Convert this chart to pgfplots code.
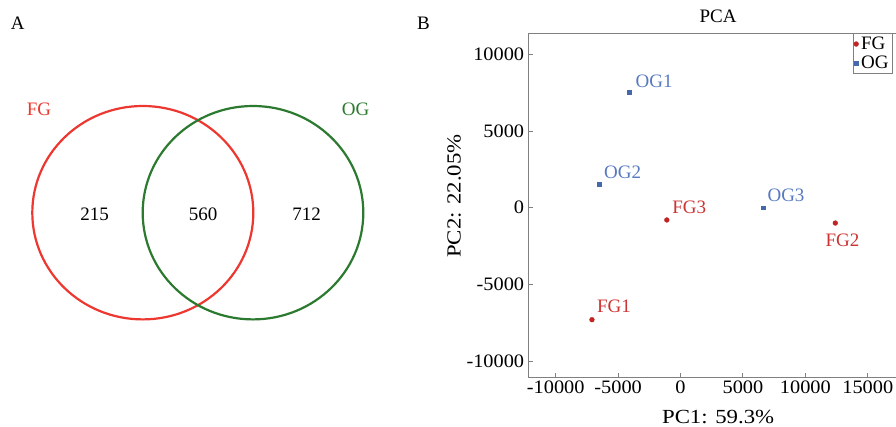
\documentclass[border=0pt]{standalone}
\usepackage{fontspec}
\setmainfont{Liberation Serif}
\newfontfamily\tickfont[FakeStretch=1.07]{Liberation Serif}
\newfontfamily\labfont[FakeStretch=1.14]{Liberation Serif}
\usepackage{pgfplots}
\pgfplotsset{compat=1.18}
\usepackage{pgfplotstable}

\definecolor{vennred}{RGB}{236,56,48}
\definecolor{venngreen}{RGB}{44,122,48}
\definecolor{fgred}{RGB}{192,36,36}
\definecolor{fgtext}{RGB}{204,52,52}
\definecolor{ogblue}{RGB}{72,104,172}
\definecolor{ogtext}{RGB}{88,122,192}
\definecolor{axgray}{RGB}{128,128,128}

\newcommand{\F}{\fontsize{19}{22}\selectfont}
\newcommand{\TF}{\tickfont\fontsize{19}{22}\selectfont}
\newcommand{\LF}{\labfont\fontsize{20}{23}\selectfont}

\pgfplotstableread{
x y label dx dy
-7100 -7300 FG1 5 7.6
12400 -1000 FG2 -10 -23.7
-1100 -800 FG3 5.3 6.3
}\fgdata
\pgfplotstableread{
x y label dx dy
-4100 7550 OG1 6 4
-6500 1550 OG2 4.6 5.7
6600 0 OG3 4.4 6
}\ogdata
\pgfplotstableread{
x y label
94.5 220.7 215
203 220.7 560
306.7 220.7 712
}\venndata

\begin{document}
\begin{tikzpicture}[x=1pt,y=1pt]
\path[use as bounding box] (0,0) rectangle (896,426);
\clip (0,0) rectangle (896,426);
% Panel A: Venn diagram
\begin{axis}[at={(0pt,0pt)}, anchor=south west, scale only axis,
  width=440pt, height=426pt, xmin=0, xmax=440, ymin=0, ymax=426,
  y dir=reverse, hide axis, clip=false]
  \draw[vennred, line width=2.2pt] (axis cs:142.8,212.7) ellipse [x radius=110.5, y radius=106.7];
  \draw[venngreen, line width=2.2pt] (axis cs:253,212.7) ellipse [x radius=110.3, y radius=106.7];
  \addplot[draw=none, mark=none, nodes near coords, point meta=explicit symbolic,
    nodes near coords style={anchor=base, font=\F, text=black, inner sep=0pt}]
    table[meta=label]{\venndata};
  \node[anchor=base, font=\F, text=vennred, inner sep=0pt] at (axis cs:39,115) {FG};
  \node[anchor=base, font=\F, text=venngreen, inner sep=0pt] at (axis cs:355.5,115) {OG};
  \node[anchor=base, font=\F, inner sep=0pt] at (axis cs:17.8,29.3) {A};
  \node[anchor=base, font=\F, inner sep=0pt] at (axis cs:423.5,29.3) {B};
\end{axis}
% Panel B: PCA
\begin{axis}[at={(528.3pt,48.7pt)}, anchor=south west, scale only axis,
  width=379.7pt, height=344pt,
  xmin=-12200, xmax=18225, ymin=-11056, ymax=11369,
  scaled ticks=false,
  axis line style={axgray, line width=1.1pt},
  tick style={axgray, line width=1pt},
  tick align=inside, major tick length=4.5pt,
  xtick pos=lower, ytick pos=left,
  xtick={-10000,-5000,0,5000,10000,15000},
  xticklabels={-10000,-5000,0,5000,10000,15000},
  ytick={-10000,-5000,0,5000,10000},
  yticklabels={-10000,-5000,0,5000,10000},
  xticklabel style={font=\TF, inner sep=0pt, yshift=-3pt},
  yticklabel style={font=\TF, inner sep=0pt, xshift=-4pt},
  title={PCA},
  title style={font=\F, at={(axis description cs:0.5,1)}, anchor=base, inner sep=0pt, yshift=5pt},
  xlabel={PC1: 59.3\%},
  xlabel style={font=\LF, at={(axis description cs:0.5,0)}, anchor=base, inner sep=0pt, yshift=-45.7pt},
  ylabel={PC2: 22.05\%},
  ylabel style={font=\LF, at={(axis description cs:-0.1957,0.527)}, anchor=center, inner sep=0pt},
  legend style={at={(axis description cs:0.854,1)}, anchor=north west,
    draw=axgray, fill=white, font=\F, inner sep=1pt,
    nodes={inner sep=2.5pt}, cells={anchor=west}, column sep=0pt},
  legend image code/.code={\draw[mark repeat=2,mark phase=2,#1] plot coordinates {(0pt,0pt) (3pt,0pt) (6pt,0pt)};},
  clip=false]
  \addplot[only marks, mark=*, mark size=2.4pt, color=fgred,
    nodes near coords, point meta=explicit symbolic,
    visualization depends on={\thisrow{dx} \as \dx},
    visualization depends on={\thisrow{dy} \as \dy},
    nodes near coords style={anchor=base west, font=\F, text=fgtext, inner sep=0pt, xshift=\dx pt, yshift=\dy pt}]
    table[meta=label]{\fgdata};
  \addlegendentry{FG}
  \addplot[only marks, mark=square*, mark size=1.9pt, color=ogblue,
    nodes near coords, point meta=explicit symbolic,
    visualization depends on={\thisrow{dx} \as \dx},
    visualization depends on={\thisrow{dy} \as \dy},
    nodes near coords style={anchor=base west, font=\F, text=ogtext, inner sep=0pt, xshift=\dx pt, yshift=\dy pt}]
    table[meta=label]{\ogdata};
  \addlegendentry{OG}
\end{axis}
\end{tikzpicture}
\end{document}
